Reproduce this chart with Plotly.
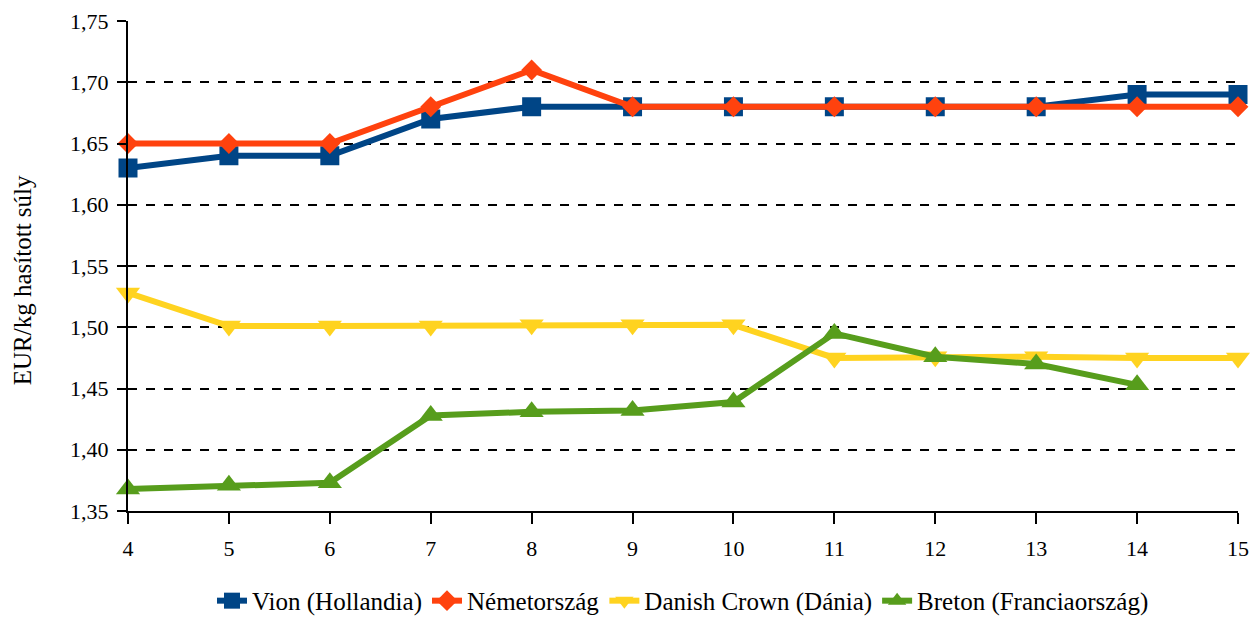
import plotly.graph_objects as go

weeks = [4, 5, 6, 7, 8, 9, 10, 11, 12, 13, 14, 15]
vion = [1.63, 1.64, 1.64, 1.67, 1.68, 1.68, 1.68, 1.68, 1.68, 1.68, 1.69, 1.69]
nemet = [1.65, 1.65, 1.65, 1.68, 1.71, 1.68, 1.68, 1.68, 1.68, 1.68, 1.68, 1.68]
danish = [1.528, 1.501, 1.501, 1.501, 1.502, 1.502, 1.502, 1.475, 1.476, 1.476, 1.475, 1.475]
breton = [1.368, 1.371, 1.373, 1.428, 1.431, 1.432, 1.439, 1.495, 1.476, 1.470, 1.453, None]
y_title = "EUR/kg hasított súly"

series = [
    ("Vion (Hollandia)", vion, "#004586", "square", 19),
    ("Németország", nemet, "#FF420E", "diamond", 16),
    ("Danish Crown (Dánia)", danish, "#FFD320", "triangle-down", 21),
    ("Breton (Franciaország)", breton, "#579D1C", "triangle-up", 21),
]

fig = go.Figure()
for name, vals, color, sym, size in series:
    fig.add_trace(go.Scatter(
        x=weeks, y=vals, name=name, mode="lines+markers",
        line=dict(color=color, width=6),
        marker=dict(symbol=sym, size=size, color=color),
        cliponaxis=False,
    ))

font = "Liberation Serif"
tickfont = dict(family=font, size=22, color="black")
fig.update_layout(
    width=1250, height=628,
    margin=dict(l=120, r=20, t=13, b=119),
    paper_bgcolor="white", plot_bgcolor="white",
    separators=", ",
    font=dict(family=font, size=22, color="black"),
    showlegend=True,
    legend=dict(orientation="h", x=0.5, xanchor="center", y=-0.1835, yanchor="middle",
                font=dict(family=font, size=25, color="black"), itemwidth=30, tracegroupgap=0),
    xaxis=dict(range=[4, 15], tickmode="array", tickvals=weeks, automargin=False,
               tickfont=tickfont,
               showline=True, linecolor="black", linewidth=2,
               ticks="outside", ticklen=11, tickwidth=2, tickcolor="black",
               ticklabelstandoff=6,
               showgrid=False, zeroline=False),
    yaxis=dict(range=[1.35, 1.75], dtick=0.05, tickformat=".2f", automargin=False,
               tickfont=tickfont,
               showline=True, linecolor="black", linewidth=2,
               ticks="outside", ticklen=9, tickwidth=2, tickcolor="black",
               ticklabelstandoff=4,
               showgrid=True, gridcolor="black", gridwidth=2, griddash="dash",
               zeroline=False),
    annotations=[dict(text=y_title, xref="paper", yref="paper", x=-0.0955, y=0.471,
                      xanchor="center", yanchor="middle", textangle=-90, showarrow=False,
                      font=dict(family=font, size=25, color="black"))],
)

fig.write_html("out.html")
